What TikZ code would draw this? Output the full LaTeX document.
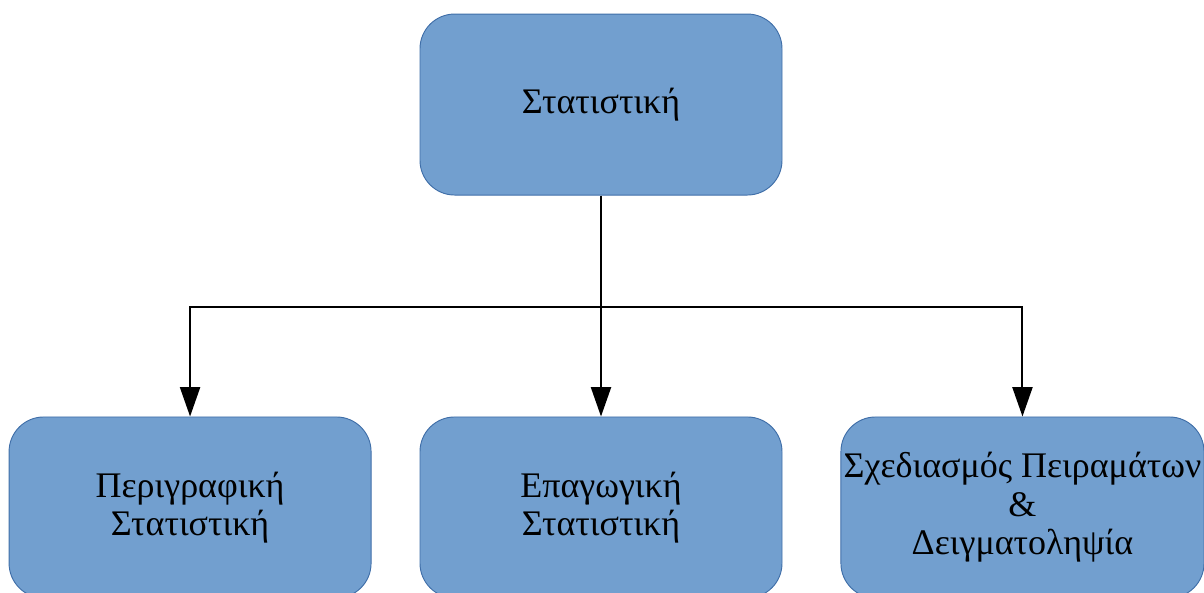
\documentclass[tikz,border=0pt]{standalone}
\usepackage{fontspec}
\setmainfont{Liberation Serif}
\usepackage{tikz}
\usetikzlibrary{arrows.meta,positioning,calc}
\definecolor{BoxFill}{HTML}{729FCF}
\definecolor{BoxLine}{HTML}{3F6EA8}

\begin{document}
\begin{tikzpicture}[
  stbox/.style={draw=BoxLine,fill=BoxFill,line width=0.7pt,rounded corners=26pt,minimum width=271.5pt,minimum height=135.75pt,inner sep=2pt,align=center,font=\fontsize{27}{29}\selectfont},
  conn/.style={line width=1.5pt,black},
  arr/.style={conn,-{Triangle[length=22pt,width=15pt]}},
]
\useasboundingbox (0,0) rectangle (903pt,-444.75pt);
\node[stbox] (stat) at (450.75pt,-78.4pt) {Στατιστική};
\node[stbox,below=165.75pt of stat] (infer) {Επαγωγική\\Στατιστική};
\node[stbox,left=36pt of infer] (descr) {Περιγραφική\\Στατιστική};
\node[stbox,right=43.5pt of infer] (design) {Σχεδιασμός Πειραμάτων\\\&\\Δειγματοληψία};
\coordinate (bus) at ($(stat.south)+(0,-83.25pt)$);
\draw[conn] (stat.south) -- (bus);
\draw[arr] (bus) -| (descr.north);
\draw[arr] (bus) -- (infer.north);
\draw[arr] (bus) -| (design.north);
\end{tikzpicture}
\end{document}
